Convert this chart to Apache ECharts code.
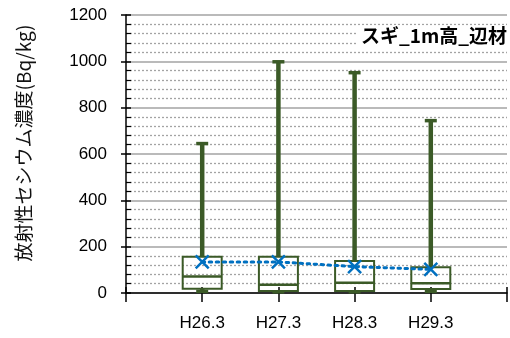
<!DOCTYPE html>
<html>
<head>
<meta charset="utf-8">
<script src="https://cdn.jsdelivr.net/npm/echarts@6/dist/echarts.min.js"></script>
<style>
html,body{margin:0;padding:0;background:#fff;}
#c{width:510px;height:338px;}
</style>
</head>
<body>
<div id="c"></div>
<script>
// Categories (first and last slots are empty padding slots on the axis)
const categories = ['', 'H26.3', 'H27.3', 'H28.3', 'H29.3', ''];
const boxCats = ['H26.3', 'H27.3', 'H28.3', 'H29.3'];
// Box statistics
const minVals = [7, 5, 5, 7];
const q1Vals = [18, 9, 9, 17];
const medianVals = [71, 36, 44, 42];
const q3Vals = [156, 157, 138, 111];
const maxVals = [645, 998, 951, 744];
const meanVals = [134, 134, 114, 102];
// Y axis ticks
const yTicks = [0, 200, 400, 600, 800, 1000, 1200];

const GREEN = '#3B5A27';
const BLUE = '#0070C0';
const GRIDC = '#A3A3A3';

const boxData = boxCats.map((c, i) => [categories.indexOf(c), minVals[i], q1Vals[i], medianVals[i], q3Vals[i], maxVals[i]]);
const meanData = boxCats.map((c, i) => [categories.indexOf(c), meanVals[i]]);

const chart = echarts.init(document.getElementById('c'), null, {renderer: 'canvas'});
const yMin = yTicks[0], yMax = yTicks[yTicks.length - 1], yStep = yTicks[1] - yTicks[0];

const option = {
  animation: false,
  backgroundColor: '#fff',
  grid: {left: 126, right: 3, top: 15, bottom: 45, containLabel: false},
  xAxis: [{
    type: 'category', data: categories, boundaryGap: false, position: 'bottom',
    axisLine: {show: true, lineStyle: {color: '#000', width: 1.5}},
    axisTick: {show: true, interval: 0, length: 9, lineStyle: {color: '#000', width: 1.5}},
    axisLabel: {interval: 0, margin: 22, fontFamily: 'Liberation Sans', fontSize: 17, color: '#000'},
    splitLine: {show: false}
  }, {
    type: 'category', data: categories, boundaryGap: false, position: 'bottom',
    axisLine: {show: false},
    axisTick: {show: true, inside: true, interval: 0, length: 6, lineStyle: {color: '#000', width: 1.5}},
    axisLabel: {show: false},
    splitLine: {show: false}
  }],
  yAxis: [{
    type: 'value', min: yMin, max: yMax, interval: yStep, position: 'left',
    axisLine: {show: true, lineStyle: {color: '#000', width: 1.5}},
    axisTick: {show: true, length: 5, lineStyle: {color: '#000', width: 1.5}},
    axisLabel: {margin: 19, fontFamily: 'Liberation Sans', fontSize: 17, color: '#000',
      formatter: function (v) { return String(v); }},
    splitLine: {show: true, lineStyle: {color: GRIDC, width: 1.5}},
    minorTick: {show: false, splitNumber: 5},
    minorSplitLine: {show: true, lineStyle: {color: GRIDC, width: 1.3, type: [2, 2]}}
  }, {
    type: 'value', min: yMin, max: yMax, interval: yStep, position: 'left',
    axisLine: {show: false},
    axisTick: {show: true, inside: true, length: 5, lineStyle: {color: '#000', width: 1.5}},
    minorTick: {show: true, splitNumber: 5, length: 5, lineStyle: {color: '#000', width: 1.2}},
    axisLabel: {show: false},
    splitLine: {show: false}
  }],
  series: [{
    type: 'custom',
    xAxisIndex: 0, yAxisIndex: 0,
    encode: {x: 0, y: [1, 2, 3, 4, 5]},
    data: boxData,
    z: 3,
    renderItem: function (params, api) {
      const x = api.value(0);
      const pMin = api.coord([x, api.value(1)]);
      const pQ1 = api.coord([x, api.value(2)]);
      const pMed = api.coord([x, api.value(3)]);
      const pQ3 = api.coord([x, api.value(4)]);
      const pMax = api.coord([x, api.value(5)]);
      const cx = pMax[0];
      const hw = 19.5, cw = 6;
      return {
        type: 'group',
        children: [
          {type: 'line', shape: {x1: cx, y1: pMax[1], x2: cx, y2: pQ3[1]}, style: {stroke: GREEN, lineWidth: 4.5}},
          {type: 'line', shape: {x1: cx - cw, y1: pMax[1], x2: cx + cw, y2: pMax[1]}, style: {stroke: GREEN, lineWidth: 3.5}},
          {type: 'line', shape: {x1: cx, y1: pQ1[1], x2: cx, y2: pMin[1]}, style: {stroke: GREEN, lineWidth: 4.5}},
          {type: 'line', shape: {x1: cx - cw, y1: pMin[1], x2: cx + cw, y2: pMin[1]}, style: {stroke: GREEN, lineWidth: 3.5}},
          {type: 'rect', shape: {x: cx - hw, y: pQ3[1], width: hw * 2, height: pQ1[1] - pQ3[1]}, style: {fill: 'none', stroke: GREEN, lineWidth: 2}},
          {type: 'line', shape: {x1: cx - hw, y1: pMed[1], x2: cx + hw, y2: pMed[1]}, style: {stroke: GREEN, lineWidth: 2.5}}
        ]
      };
    }
  }, {
    type: 'line',
    xAxisIndex: 0, yAxisIndex: 0,
    data: meanData,
    z: 5,
    symbol: 'path://M0,0L10,10M10,0L0,10',
    symbolSize: 13,
    itemStyle: {color: 'none', borderColor: BLUE, borderWidth: 2.5},
    lineStyle: {color: BLUE, width: 3, type: [2.5, 4.5], cap: 'round'}
  }],
  graphic: [{
    type: 'text', x: 24, y: 143, rotation: Math.PI / 2,
    style: {text: '放射性セシウム濃度(Bq/kg)', align: 'center', verticalAlign: 'middle',
      font: '19px "Noto Sans CJK JP"', fill: '#111'}
  }, {
    type: 'text', x: 509, y: 36, z: 10,
    style: {text: 'スギ_1m高_辺材', align: 'right', verticalAlign: 'middle',
      font: 'bold 19px "Noto Sans CJK JP"', fill: '#000', backgroundColor: '#fff', padding: [1, 2, 1, 3]}
  }]
};
chart.setOption(option);
</script>
</body>
</html>
